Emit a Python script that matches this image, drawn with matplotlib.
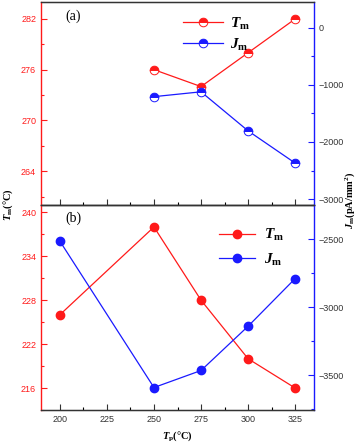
import matplotlib
matplotlib.use('Agg')
import matplotlib.pyplot as plt
from matplotlib.ticker import MultipleLocator, AutoMinorLocator

plt.rcParams['font.family'] = ['Liberation Sans', 'DejaVu Sans']
plt.rcParams['mathtext.fontset'] = 'custom'
plt.rcParams['mathtext.rm'] = 'Liberation Serif'
plt.rcParams['mathtext.it'] = 'Liberation Serif:italic'
plt.rcParams['mathtext.bf'] = 'Liberation Serif:bold'
plt.rcParams['mathtext.bfit'] = 'Liberation Serif:bold:italic'

# data
tp_a = [250, 275, 300, 325]
tm_a = [276, 274, 278, 282]
jm_a = [-1205, -1120, -1805, -2370]

tp_b = [200, 250, 275, 300, 325]
tm_b = [226, 238, 228, 220, 216]
jm_b = [-2515, -3590, -3465, -3140, -2790]

RED = '#ff1a1a'
BLUE = '#1a1aff'
TM_LABEL = r'$\mathbfit{T}_{\mathbf{m}}$'
JM_LABEL = r'$\mathbfit{J}_{\mathbf{m}}$'

fig = plt.figure(figsize=(3.57, 4.42), dpi=100)
left, width = 41 / 357, (314 - 41) / 357
ax_a = fig.add_axes([left, 1 - 205 / 442, width, 203 / 442])
ax_b = fig.add_axes([left, 1 - 410 / 442, width, 205 / 442])


def style(ax, axr):
    ax.set_xlim(190, 335)
    ax.xaxis.set_major_locator(MultipleLocator(25))
    ax.xaxis.set_minor_locator(AutoMinorLocator(2))
    ax.yaxis.set_major_locator(MultipleLocator(6))
    ax.yaxis.set_minor_locator(AutoMinorLocator(2))
    ax.tick_params(which='both', direction='in', labelsize=6.5, width=0.8)
    ax.tick_params(which='major', length=4)
    ax.tick_params(which='minor', length=2)
    ax.tick_params(axis='y', which='both', colors=RED, labelcolor=RED)
    ax.tick_params(axis='x', colors='#333333', labelcolor='#333333')
    axr.tick_params(which='both', direction='in', labelsize=6.5, width=0.8,
                    colors=BLUE, labelcolor='#333333')
    axr.tick_params(which='major', length=4)
    axr.tick_params(which='minor', length=2)
    axr.yaxis.set_minor_locator(AutoMinorLocator(2))
    for sp in ('left', 'right'):
        ax.spines[sp].set_visible(False)
    axr.spines['left'].set_color(RED)
    axr.spines['right'].set_color(BLUE)
    axr.spines['top'].set_color('#333333')
    axr.spines['bottom'].set_color('#333333')
    for sp in axr.spines.values():
        sp.set_linewidth(1.0)


# panel (a): half-filled markers
axr_a = ax_a.twinx()
ax_a.plot(tp_a, tm_a, '-o', color=RED, lw=0.9, ms=6.2, fillstyle='top',
          markerfacecolor=RED, markerfacecoloralt='white', markeredgecolor=RED,
          mew=0.7, label=TM_LABEL)
axr_a.plot(tp_a, jm_a, '-o', color=BLUE, lw=0.9, ms=6.2, fillstyle='top',
           markerfacecolor=BLUE, markerfacecoloralt='white', markeredgecolor=BLUE,
           mew=0.7, label=JM_LABEL)
ax_a.set_ylim(260, 284)
axr_a.set_ylim(-3105, 455)
axr_a.yaxis.set_major_locator(MultipleLocator(1000))
style(ax_a, axr_a)
ax_a.tick_params(axis='x', labelbottom=False)
ax_a.text(0.09, 0.93, '(a)', transform=ax_a.transAxes, fontsize=10,
          family='Liberation Serif', va='center', ha='left')
h1, l1 = ax_a.get_legend_handles_labels()
h2, l2 = axr_a.get_legend_handles_labels()
ax_a.legend(h1 + h2, l1 + l2, loc='upper left', bbox_to_anchor=(0.47, 1.0),
            frameon=False, fontsize=11, handlelength=2.6, labelspacing=0.3,
            handletextpad=0.5)

# panel (b)
axr_b = ax_b.twinx()
ax_b.plot(tp_b, tm_b, '-o', color=RED, lw=0.9, ms=6, label=TM_LABEL)
axr_b.plot(tp_b, jm_b, '-o', color=BLUE, lw=0.9, ms=6, label=JM_LABEL)
ax_b.set_ylim(213, 241)
axr_b.set_ylim(-3755, -2250)
axr_b.yaxis.set_major_locator(MultipleLocator(500))
style(ax_b, axr_b)
ax_b.text(0.09, 0.935, '(b)', transform=ax_b.transAxes, fontsize=10,
          family='Liberation Serif', va='center', ha='left')
h1, l1 = ax_b.get_legend_handles_labels()
h2, l2 = axr_b.get_legend_handles_labels()
ax_b.legend(h1 + h2, l1 + l2, loc='upper left', bbox_to_anchor=(0.6, 0.96),
            frameon=False, fontsize=11, handlelength=2.4, labelspacing=0.55,
            handletextpad=0.6)
ax_b.set_xlabel(r'$\mathbfit{T}_{\mathbf{p}}\mathbf{(°C)}$', fontsize=7.5, labelpad=4)

fig.text(8 / 357, 1 - 205 / 442, r'$\mathbfit{T}_{\mathbf{m}}\mathbf{(°C)}$',
         rotation=90, fontsize=7.5, ha='center', va='center')
fig.text(350 / 357, 1 - 200 / 442, r'$\mathbfit{J}_{\mathbf{m}}\mathbf{(pA/mm^2)}$',
         rotation=90, fontsize=7.5, ha='center', va='center')

fig.savefig('out.png', dpi=100)
